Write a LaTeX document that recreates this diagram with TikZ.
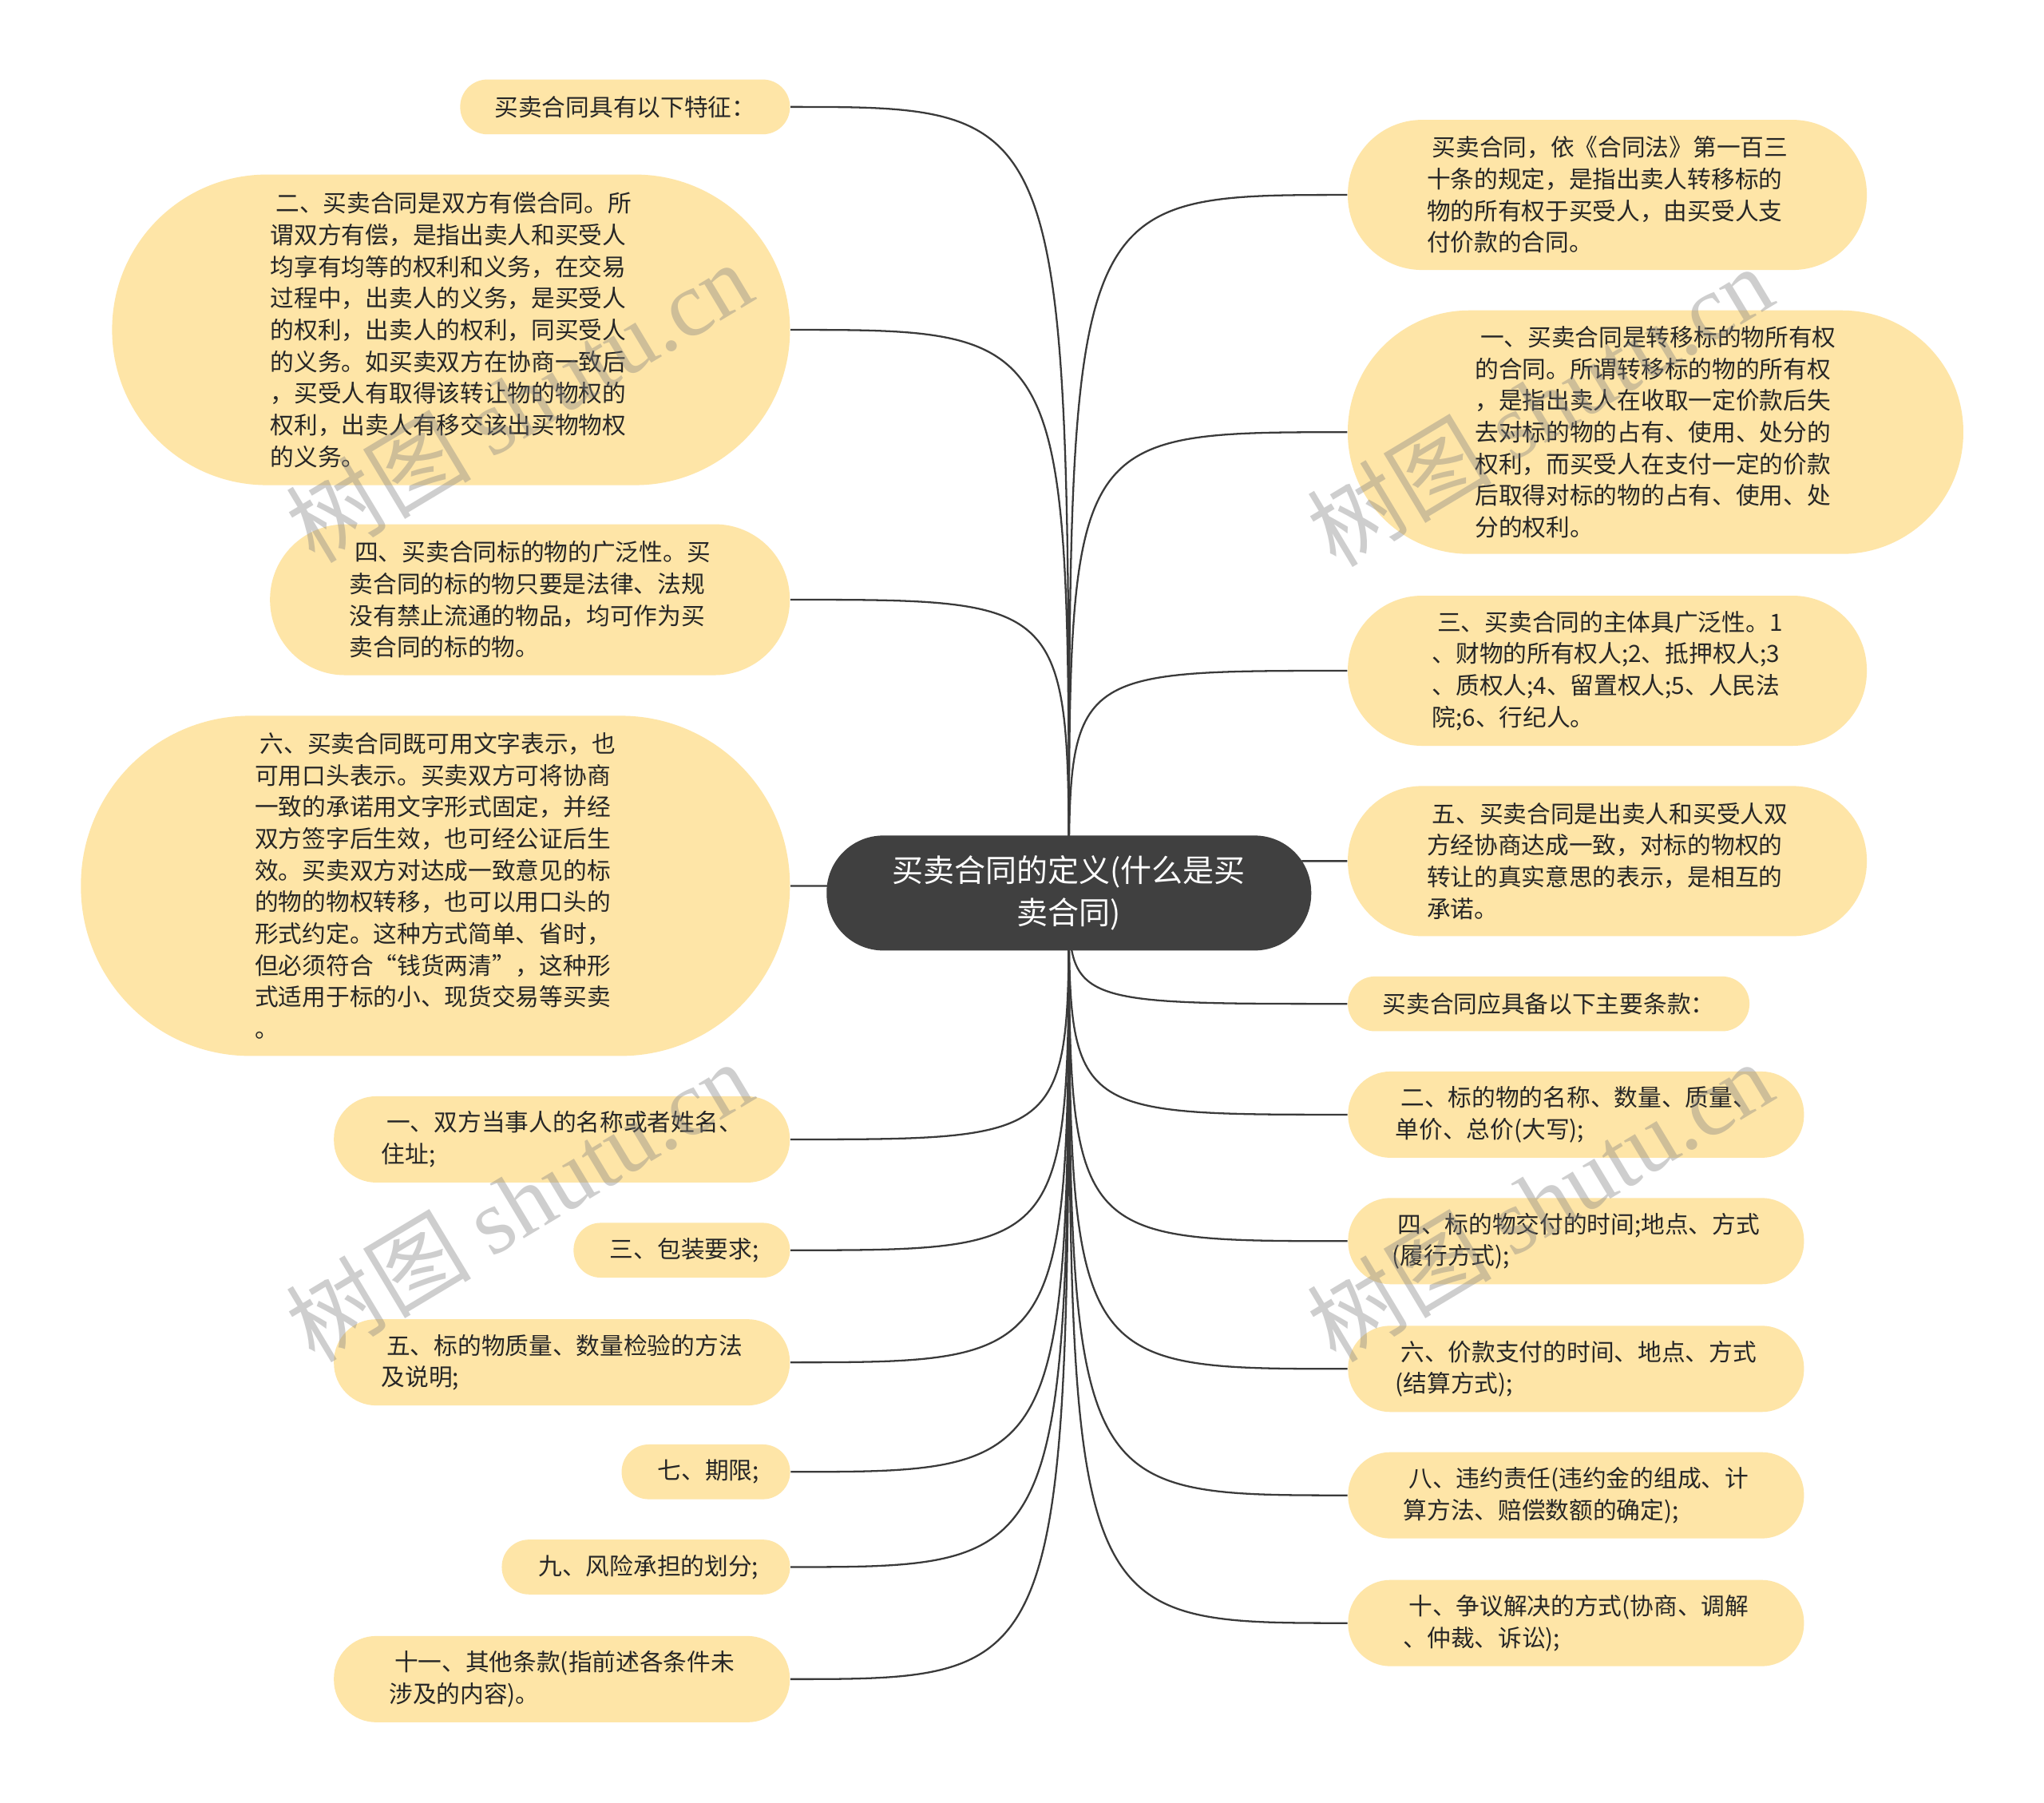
\documentclass[tikz,border=0pt]{standalone}
\usepackage{fontspec}
\setmainfont{Noto Sans CJK SC}
\newfontfamily\wmlatin{Liberation Serif}
\usetikzlibrary{backgrounds}
\definecolor{leafyellow}{RGB}{254,229,167}
\definecolor{hubgray}{RGB}{64,64,64}
\definecolor{linkgray}{RGB}{58,58,58}
\definecolor{inkgray}{RGB}{38,38,38}

\begin{document}
\begin{tikzpicture}[x=0.016327cm, y=-0.016327cm,
  leaf/.style={fill=leafyellow, text=inkgray, align=left, inner sep=0pt, font=\fontsize{8.45}{11.28}\selectfont},
  one/.style={minimum height=6.86mm, rounded corners=3.4mm},
  two/.style={minimum height=10.8mm, rounded corners=5.3mm},
  four/.style={minimum height=18.8mm, rounded corners=9.3mm},
  hub/.style={fill=hubgray, text=white, align=center, inner sep=0pt, rounded corners=7.1mm,
    minimum width=60.7mm, minimum height=14.4mm, font=\fontsize{11.1}{15.3}\selectfont},
  link/.style={draw=linkgray, line width=0.65pt},
  wmtext/.style={text=gray, opacity=0.38, rotate=31, font=\fontsize{33}{33}\selectfont}]
\useasboundingbox (0,0) rectangle (1568,1383);
% centre
\node[hub] (hub) at (820,685) {买卖合同的定义(什么是买\\卖合同)};
% left side
\node[leaf,one,minimum width=41.3mm] (l1) at (479.5,82) {买卖合同具有以下特征：};
\node[leaf,minimum width=84.9mm,minimum height=38.9mm,rounded corners=19.4mm] (l2) at (346,253)
  {\ 二、买卖合同是双方有偿合同。所\\谓双方有偿，是指出卖人和买受人\\均享有均等的权利和义务，在交易\\过程中，出卖人的义务，是买受人\\的权利，出卖人的权利，同买受人\\的义务。如买卖双方在协商一致后\\，买受人有取得该转让物的物权的\\权利，出卖人有移交该出买物物权\\的义务。};
\node[leaf,minimum width=65.1mm,minimum height=18.9mm,rounded corners=9.4mm] (l3) at (406.5,460)
  {\ 四、买卖合同标的物的广泛性。买\\卖合同的标的物只要是法律、法规\\没有禁止流通的物品，均可作为买\\卖合同的标的物。};
\node[leaf,minimum width=88.8mm,minimum height=42.6mm,rounded corners=21.2mm] (l4) at (334,679.5)
  {\ 六、买卖合同既可用文字表示，也\\可用口头表示。买卖双方可将协商\\一致的承诺用文字形式固定，并经\\双方签字后生效，也可经公证后生\\效。买卖双方对达成一致意见的标\\的物的物权转移，也可以用口头的\\形式约定。这种方式简单、省时，\\但必须符合“钱货两清”，这种形\\式适用于标的小、现货交易等买卖\\。};
\node[leaf,two,minimum width=57.1mm] (l5) at (431,874) {\ 一、双方当事人的名称或者姓名、\\住址;};
\node[leaf,one,minimum width=27.1mm] (l6) at (523,959) {\ 三、包装要求;};
\node[leaf,two,minimum width=57.1mm] (l7) at (431,1045) {\ 五、标的物质量、数量检验的方法\\及说明;};
\node[leaf,one,minimum width=21.1mm] (l8) at (541.5,1129) {\ 七、期限;};
\node[leaf,one,minimum width=36.1mm] (l9) at (495.5,1202) {\ 九、风险承担的划分;};
\node[leaf,two,minimum width=57.1mm] (l10) at (431,1288) {\ 十一、其他条款(指前述各条件未\\涉及的内容)。};
% right side
\node[leaf,four,minimum width=65mm] (r1) at (1233,149.5)
  {\ 买卖合同，依《合同法》第一百三\\十条的规定，是指出卖人转移标的\\物的所有权于买受人，由买受人支\\付价款的合同。};
\node[leaf,minimum width=77.1mm,minimum height=30.5mm,rounded corners=15.2mm] (r2) at (1270,331.5)
  {\ 一、买卖合同是转移标的物所有权\\的合同。所谓转移标的物的所有权\\，是指出卖人在收取一定价款后失\\去对标的物的占有、使用、处分的\\权利，而买受人在支付一定的价款\\后取得对标的物的占有、使用、处\\分的权利。};
\node[leaf,four,minimum width=65mm] (r3) at (1233,514.5)
  {\ 三、买卖合同的主体具广泛性。1\\、财物的所有权人;2、抵押权人;3\\、质权人;4、留置权人;5、人民法\\院;6、行纪人。};
\node[leaf,four,minimum width=65mm] (r4) at (1233,660.5)
  {\ 五、买卖合同是出卖人和买受人双\\方经协商达成一致，对标的物权的\\转让的真实意思的表示，是相互的\\承诺。};
\node[leaf,one,minimum width=50.3mm] (r5) at (1188,770) {买卖合同应具备以下主要条款：};
\node[leaf,two,minimum width=57.1mm] (r6) at (1209,855) {\ 二、标的物的名称、数量、质量、\\单价、总价(大写);};
\node[leaf,two,minimum width=57.1mm] (r7) at (1209,952) {\ 四、标的物交付的时间;地点、方式\\(履行方式);};
\node[leaf,two,minimum width=57.1mm] (r8) at (1209,1050) {\ 六、价款支付的时间、地点、方式\\(结算方式);};
\node[leaf,two,minimum width=57.1mm] (r9) at (1209,1147) {\ 八、违约责任(违约金的组成、计\\算方法、赔偿数额的确定);};
\node[leaf,two,minimum width=57.1mm] (r10) at (1209,1245) {\ 十、争议解决的方式(协商、调解\\、仲裁、诉讼);};
% branches
\begin{scope}[on background layer]
\fill[white] (0,0) rectangle (1568,1383);
\foreach \n in {l1,l2,l3,l4,l5,l6,l7,l8,l9,l10}
  \draw[link] (hub.center) .. controls (hub.center |- \n.east) .. (\n.east);
\foreach \n in {r1,r2,r3,r4,r5,r6,r7,r8,r9,r10}
  \draw[link] (hub.center) .. controls (hub.center |- \n.west) .. (\n.west);
\end{scope}
% watermarks
\foreach \wx/\wy [count=\i] in {398/308, 1181/311, 398/921, 1181/921}
  \node[wmtext] (wm\i) at (\wx,\wy) {树图 {\wmlatin shutu.cn}};
\end{tikzpicture}
\end{document}
